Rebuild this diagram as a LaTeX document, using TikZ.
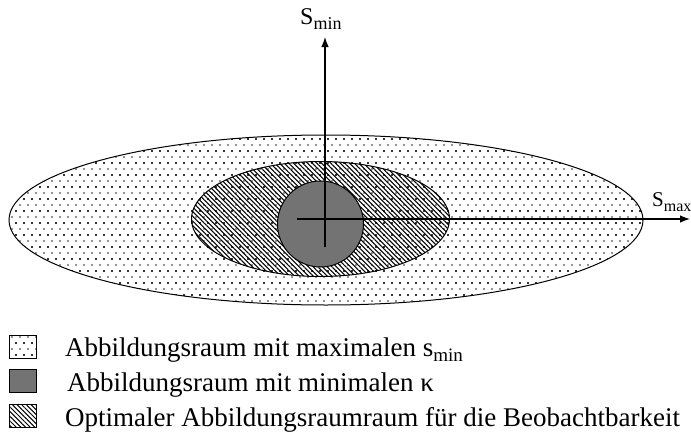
\documentclass[tikz,border=0pt]{standalone}
\usepackage{fontspec}
\setmainfont{Liberation Serif}
\usetikzlibrary{patterns,patterns.meta,shapes.geometric,arrows.meta}
\pgfdeclarepatternformonly{stagdots}{\pgfqpoint{-1pt}{-1pt}}{\pgfqpoint{9pt}{13pt}}{\pgfqpoint{8pt}{12pt}}{%
  \pgfpathcircle{\pgfqpoint{0pt}{0pt}}{0.9pt}
  \pgfpathcircle{\pgfqpoint{4pt}{6pt}}{0.9pt}
  \pgfpathcircle{\pgfqpoint{8pt}{0pt}}{0.9pt}
  \pgfpathcircle{\pgfqpoint{0pt}{12pt}}{0.9pt}
  \pgfpathcircle{\pgfqpoint{8pt}{12pt}}{0.9pt}
  \pgfusepath{fill}}
\tikzset{
  region/.style={draw=black, line width=1pt, inner sep=0pt},
  dotfill/.style={pattern=stagdots, pattern color=black!85},
  hatchfill/.style={pattern={Lines[angle=-45, distance=3.3pt, line width=1.05pt]}, pattern color=black},
  grayfill/.style={fill=black!55},
  axis/.style={line width=1.2pt, -{Latex[length=10pt,width=7.5pt]}},
  legbox/.style={rectangle, draw=black, line width=1pt, minimum width=27pt, minimum height=23pt, inner sep=0pt},
  legtext/.style={anchor=base west, font=\fontsize{27}{30}\selectfont, inner sep=0pt},
  axlabel/.style={anchor=base west, inner sep=0pt}
}
\newcommand{\mysub}[2]{\raisebox{-5pt}{\fontsize{#1}{#1}\selectfont #2}}
\begin{document}
\begin{tikzpicture}[x=1pt,y=-1pt]
\useasboundingbox (0,0) rectangle (691,439);
% regions
\node[region, ellipse, dotfill, minimum width=634pt, minimum height=170pt] (outer) at (326,220) {};
\node[region, ellipse, hatchfill, minimum width=258pt, minimum height=115pt] (middle) at (320.5,219) {};
\node[region, circle, grayfill, minimum size=86pt] (inner) at (320.5,224) {};
% axes
\coordinate (vstart) at (325,247);
\coordinate (vend) at (325,37);
\coordinate (hstart) at (297,219);
\coordinate (hend) at (690,219);
\draw[axis] (vstart) -- (vend);
\draw[axis] (hstart) -- (hend);
\node[axlabel, font=\fontsize{24}{26}\selectfont] (smin) at (300,24) {S\mysub{18}{min}};
\node[axlabel, font=\fontsize{21}{24}\selectfont] (smax) at (652,206) {S\mysub{16}{max}};
% legend
\node[legbox, dotfill, anchor=north west] (b1) at (9,335) {};
\node[legbox, grayfill, anchor=north west] (b2) at (9,369) {};
\node[legbox, hatchfill, anchor=north west] (b3) at (9,404) {};
\node[legtext] (t1) at (65,356) {Abbildungsraum mit maximalen s\mysub{19}{min}};
\node[legtext] (t2) at (67,391) {Abbildungsraum mit minimalen κ};
\node[legtext] (t3) at (65,426) {Optimaler Abbildungsraumraum für die Beobachtbarkeit};
\end{tikzpicture}
\end{document}
